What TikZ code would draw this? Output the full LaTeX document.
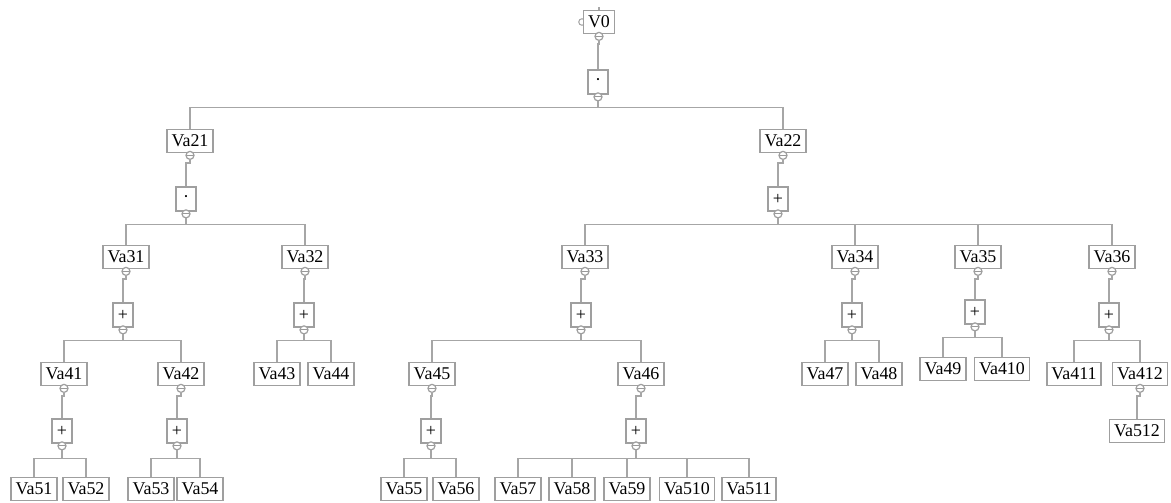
\documentclass[tikz,border=0pt]{standalone}
\usepackage{fontspec}
\setmainfont{Liberation Serif}
\usepackage{tikz}
\usetikzlibrary{calc}
\tikzset{every picture/.style={line width=1pt,x=0.02cm,y=-0.02cm},
var/.style={draw=gray!75,fill=white,minimum height=0.46cm,inner xsep=2.6pt,inner ysep=0pt,font=\fontsize{10.2}{12}\selectfont},
opbox/.style={draw=gray!75,fill=white,minimum width=0.4cm,minimum height=0.48cm,inner sep=0pt,font=\fontsize{10.2}{12}\selectfont},
port/.style={circle,draw=gray!75,fill=white,minimum size=0.16cm,inner sep=0pt,line width=0.7pt,path picture={\draw[gray!80,line width=0.6pt] (path picture bounding box.west) -- (path picture bounding box.east);}},
wire/.style={draw=gray!70}}

\begin{document}
\begin{tikzpicture}
\useasboundingbox (0,0) rectangle (1171,503);
% root
\node (inV0) at (582,22) [circle,draw=gray!70,line width=0.6pt,minimum size=0.13cm,inner sep=0pt] {};
\node (V0) at (599,22) [var] {V0};
\draw[wire] (V0.north) -- ++(0,-3);
\node (op0) at (598,82) [opbox] {\textperiodcentered};
% level 2
\node (Va21) at (190,141) [var] {Va21};
\node (op21) at (186,199) [opbox] {\textperiodcentered};
\node (Va22) at (783,141) [var] {Va22};
\node (op22) at (778,199) [opbox] {+};
% level 3
\foreach \n/\x in {31/126, 32/305, 33/585, 34/855, 35/978, 36/1112}
  \node (Va\n) at (\x,257) [var] {Va\n};
\foreach \n/\x in {31/123, 32/304, 33/581, 34/852, 36/1109}
  \node (op\n) at (\x,315) [opbox] {+};
\node (op35) at (975,312) [opbox] {+};
% level 4
\foreach \n/\x in {41/64, 42/181, 43/277, 44/331, 45/432, 46/641, 47/825, 48/879, 411/1074, 412/1140}
  \node (Va\n) at (\x,374) [var] {Va\n};
\node (Va49) at (943,369) [var] {Va49};
\node (Va410) at (1002,369) [var] {Va410};
\foreach \n/\x in {41/62, 42/177, 45/431, 46/636}
  \node (op\n) at (\x,431) [opbox] {+};
% level 5
\foreach \n/\x in {51/34, 52/86, 53/151, 54/200, 55/404, 56/456, 57/518, 58/572, 59/627, 510/687, 511/749}
  \node (Va\n) at (\x,489) [var] {Va\n};
\node (Va512) at (1137,431) [var] {Va512};

% output ports
\foreach \n in {V0, op0, Va21, op21, Va22, op22, Va31, Va32, Va33, Va34, Va35, Va36, op31, op32, op33, op34, op35, op36, Va41, Va42, Va45, Va46, Va412, op41, op42, op45, op46}
  \node (p\n) at ($(\n.south)+(0,2)$) [port] {};

% parent to operator
\foreach \a/\b in {V0/op0, Va21/op21, Va22/op22, Va31/op31, Va32/op32, Va33/op33, Va34/op34, Va35/op35, Va36/op36, Va41/op41, Va42/op42, Va45/op45, Va46/op46, Va412/Va512}
  \draw[wire] (p\a.south) -- ++(0,3) -| (\b.north);

% operator to children
\foreach \a/\b in {op0/Va21, op0/Va22, op21/Va31, op21/Va32, op22/Va33, op22/Va34, op22/Va35, op22/Va36,
  op31/Va41, op31/Va42, op32/Va43, op32/Va44, op33/Va45, op33/Va46, op34/Va47, op34/Va48, op35/Va49, op35/Va410, op36/Va411, op36/Va412}
  \draw[wire] (p\a.south) -- ++(0,6) -| (\b.north);
\foreach \a/\b in {op41/Va51, op41/Va52, op42/Va53, op42/Va54, op45/Va55, op45/Va56, op46/Va57, op46/Va58, op46/Va59, op46/Va510, op46/Va511}
  \draw[wire] (p\a.south) -- ++(0,8) -| (\b.north);
\end{tikzpicture}
\end{document}
